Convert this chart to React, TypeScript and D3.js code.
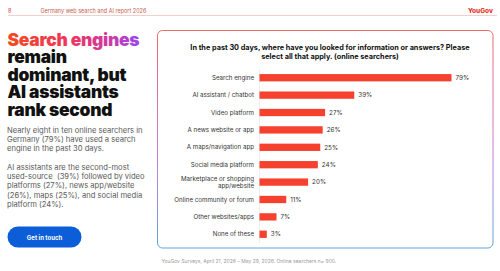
import * as d3 from "d3";

const categories = [
  "Search engine",
  "AI assistant / chatbot",
  "Video platform",
  "A news website or app",
  "A maps/navigation app",
  "Social media platform",
  "Marketplace or shopping\napp/website",
  "Online community or forum",
  "Other websites/apps",
  "None of these",
];
const values = [79, 39, 27, 26, 25, 24, 20, 11, 7, 3];

const headline = ["Search engines", "remain", "dominant, but", "AI assistants", "rank second"];
const para1 = [
  "Nearly eight in ten online searchers in",
  "Germany (79%) have used a search",
  "engine in the past 30 days.",
];
const para2 = [
  "AI assistants are the second-most",
  "used-source  (39%) followed by video",
  "platforms (27%), news app/website",
  "(26%), maps (25%), and social media",
  "platform (24%).",
];
const chartTitle = [
  "In the past 30 days, where have you looked for information or answers? Please",
  "select all that apply. (online searchers)",
];

const W = 500;
const H = 271;
const font = "Inter, 'Noto Sans', sans-serif";
const barColor = "#f5412d";

export default function App() {
  const x = d3.scaleLinear().domain([0, 79]).range([259.5, 451.5]);
  const y = d3.scaleBand<string>().domain(categories).range([64, 248]).padding(0.58);

  return (
    <svg width={W} height={H} style={{ position: "absolute", left: 0, top: 0, background: "#fff" }}>
      <defs>
        <linearGradient id="headGrad" x1="0" x2="1" y1="0" y2="0">
          <stop offset="0%" stopColor="#f24a24" />
          <stop offset="45%" stopColor="#f0365a" />
          <stop offset="75%" stopColor="#d23a9c" />
          <stop offset="100%" stopColor="#9b45ef" />
        </linearGradient>
        <linearGradient id="cardGrad" x1="0" x2="0" y1="0" y2="1">
          <stop offset="0%" stopColor="#ef6b6b" />
          <stop offset="55%" stopColor="#c77ad6" />
          <stop offset="100%" stopColor="#5ea6dc" />
        </linearGradient>
      </defs>

      {/* header */}
      <text x={8} y={12.5} fontFamily={font} fontSize={5.5} fill="#d8453a">8</text>
      <text x={40.5} y={12.5} fontFamily={font} fontSize={5.5} fill="#c8604f">
        Germany web search and AI report 2026
      </text>
      <text x={493} y={12.5} textAnchor="end" fontFamily={font} fontSize={6.5} fontWeight={800} fill="#e5352a">
        YouGov
      </text>
      <line x1={8} x2={497} y1={15.5} y2={15.5} stroke="#f1c4c0" strokeWidth={0.8} />

      {/* headline */}
      {headline.map((t, i) => (
        <text
          key={t}
          x={7.5}
          y={45.5 + i * 17.5}
          fontFamily={font}
          fontSize={17.4}
          fontWeight={900}
          letterSpacing={-0.25}
          fill={i === 0 ? "url(#headGrad)" : "#111"}
        >
          {t}
        </text>
      ))}

      {para1.map((t, i) => (
        <text key={t} x={7} y={132.5 + i * 9.3} fontFamily={font} fontSize={7.6} fill="#5a5a5a">
          {t}
        </text>
      ))}
      {para2.map((t, i) => (
        <text key={t} x={7} y={169.8 + i * 9.3} fontFamily={font} fontSize={7.6} fill="#5a5a5a" xmlSpace="preserve">
          {t}
        </text>
      ))}

      {/* button */}
      <rect x={7.5} y={226.5} width={74} height={21} rx={10.5} fill="#0b5ed7" />
      <text x={44.5} y={239.5} textAnchor="middle" fontFamily={font} fontSize={6} fontWeight={700} fill="#fff">
        Get in touch
      </text>

      {/* card */}
      <rect x={157.5} y={30.5} width={335.5} height={217.5} rx={5} fill="#fff" stroke="url(#cardGrad)" strokeWidth={1} />

      {chartTitle.map((t, i) => (
        <text key={t} x={330} y={49.5 + i * 9.5} textAnchor="middle" fontFamily={font} fontSize={7.3} fontWeight={700} fill="#111">
          {t}
        </text>
      ))}

      <line x1={259.5} x2={259.5} y1={69} y2={243} stroke="#e2e2e2" strokeWidth={0.6} />

      {categories.map((c, i) => {
        const yc = (y(c) ?? 0) + y.bandwidth() / 2;
        const lines = c.split("\n");
        return (
          <g key={c}>
            <rect x={x(0)} y={y(c)} width={x(values[i]) - x(0)} height={y.bandwidth()} fill={barColor} />
            {lines.map((l, j) => (
              <text
                key={l}
                x={254}
                y={yc + (j - (lines.length - 1) / 2) * 6.6}
                dy="0.35em"
                textAnchor="end"
                fontFamily={font}
                fontSize={6.2}
                fill="#333"
              >
                {l}
              </text>
            ))}
            <text x={x(values[i]) + 4} y={yc} dy="0.35em" fontFamily={font} fontSize={6.3} fill="#333">
              {values[i]}%
            </text>
          </g>
        );
      })}

      <text x={161.5} y={263} fontFamily={font} fontSize={5} fill="#9a9a9a">
        YouGov Surveys, April 21, 2026 – May 29, 2026. Online searchers n= 900.
      </text>
    </svg>
  );
}
